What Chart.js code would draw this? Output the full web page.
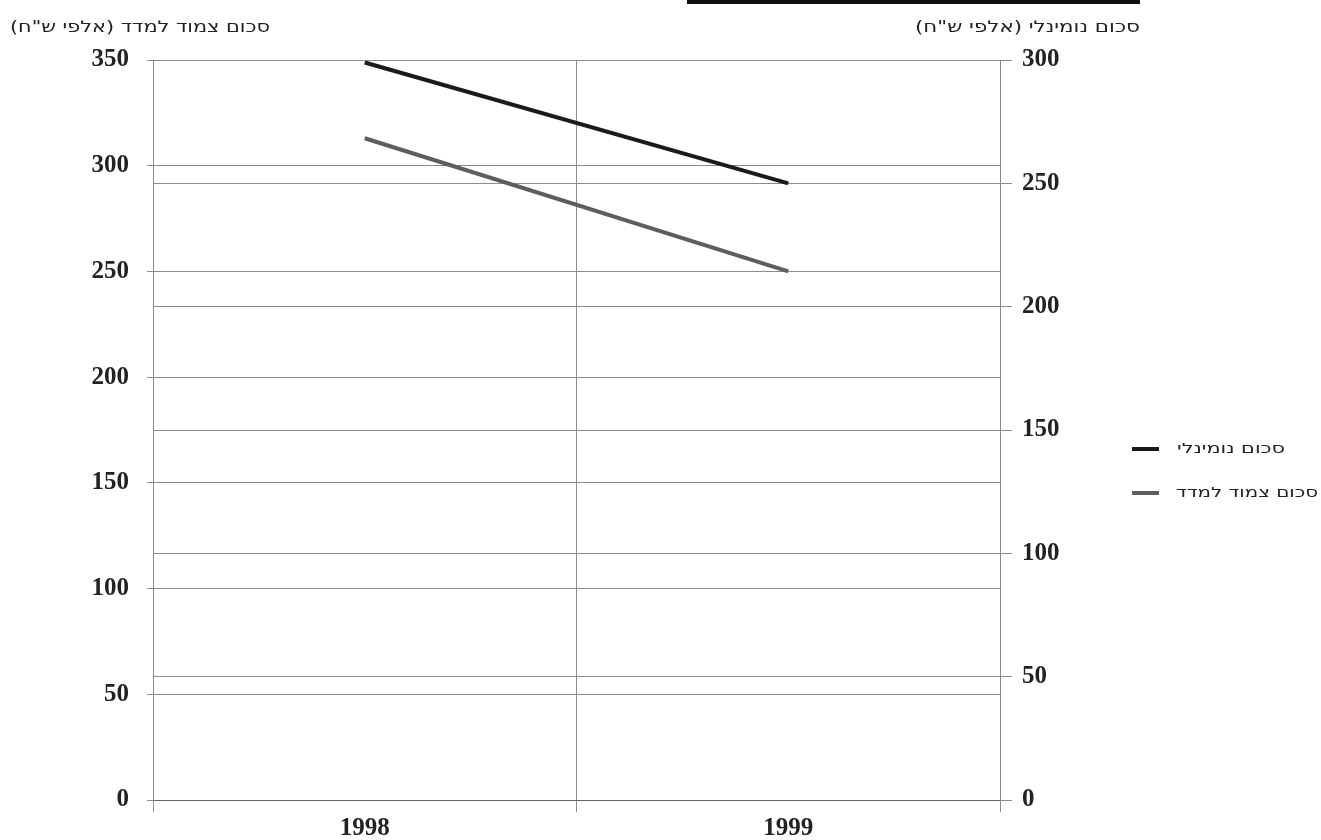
<!DOCTYPE html>
<html>
<head>
<meta charset="utf-8">
<script src="https://cdn.jsdelivr.net/npm/chart.js@4"></script>
<style>
  html, body { margin: 0; padding: 0; background: #ffffff; }
  #wrap { width: 1321px; height: 840px; position: relative; }
</style>
</head>
<body>
<div id="wrap"><canvas id="c"></canvas></div>
<script>
// Years on the category axis
const years = ['1998', '1999'];

// Nominal amount, thousands of NIS (right axis)
const nominalLabel = 'סכום נומינלי';
const nominalValues = [299, 250];

// Index-linked amount, thousands of NIS (left axis)
const indexedLabel = 'סכום צמוד למדד';
const indexedValues = [313, 250];

// Axis titles
const leftAxisTitle = 'סכום צמוד למדד (אלפי ש"ח)';
const rightAxisTitle = 'סכום נומינלי (אלפי ש"ח)';

// Axis ranges
const leftMax = 350;
const rightMax = 300;
const step = 50;

const tickFont = { family: '"Liberation Serif", "Times New Roman", serif', size: 25, weight: 'bold' };
const gridColor = '#8c8c8c';
const hebrewFont = '"DejaVu Sans", "Noto Sans", sans-serif';

// Right-to-left text whose right edge sits at x, stretched to a given width
function drawRtl(ctx, text, xRight, y, size, width) {
  ctx.save();
  ctx.direction = 'rtl';
  ctx.textAlign = 'right';
  ctx.textBaseline = 'middle';
  ctx.font = size + 'px ' + hebrewFont;
  const w = ctx.measureText(text).width;
  const sx = width / w;
  ctx.translate(xRight, y);
  ctx.scale(sx, 1);
  ctx.fillText(text, 0, 0);
  ctx.restore();
}

// Axis titles above each value axis, legend on the right, header bar at top
const decorations = {
  id: 'decorations',
  afterDraw(chart) {
    const ctx = chart.ctx;
    ctx.save();

    // header bar
    ctx.fillStyle = '#111';
    ctx.fillRect(687, 0, 453, 4);

    ctx.fillStyle = '#222';
    drawRtl(ctx, leftAxisTitle, 270, 28, 16, 260);
    drawRtl(ctx, rightAxisTitle, 1140, 28, 16, 225);

    // legend
    const rows = [449, 493];
    const rights = [1285, 1318];
    const widths = [108, 142];
    chart.data.datasets.forEach((ds, i) => {
      const y = rows[i];
      ctx.fillStyle = ds.borderColor;
      ctx.fillRect(1132, y - 2, 27, 4);
      ctx.fillStyle = '#222';
      drawRtl(ctx, ds.label, rights[i], y, 14, widths[i]);
    });
    ctx.restore();
  }
};

new Chart(document.getElementById('c'), {
  type: 'line',
  data: {
    labels: years,
    datasets: [
      {
        label: nominalLabel,
        data: nominalValues,
        yAxisID: 'yR',
        borderColor: '#1a1a1a',
        backgroundColor: '#1a1a1a',
        borderWidth: 4,
        pointRadius: 0,
        tension: 0
      },
      {
        label: indexedLabel,
        data: indexedValues,
        yAxisID: 'yL',
        borderColor: '#5e5e5e',
        backgroundColor: '#5e5e5e',
        borderWidth: 4,
        pointRadius: 0,
        tension: 0
      }
    ]
  },
  options: {
    responsive: true,
    maintainAspectRatio: false,
    animation: false,
    layout: { padding: { left: 0, right: 261, top: 60, bottom: 0 } },
    plugins: {
      legend: { display: false },
      tooltip: { enabled: false }
    },
    scales: {
      x: {
        type: 'category',
        offset: true,
        grid: { offset: true, color: gridColor, lineWidth: 1, tickLength: 12 },
        border: { color: '#666', width: 1 },
        ticks: { font: tickFont, color: '#222', padding: 2 },
        afterFit(s) { s.height = 40; }
      },
      yL: {
        position: 'left',
        min: 0,
        max: leftMax,
        ticks: { stepSize: step, font: tickFont, color: '#222', padding: 18 },
        grid: { color: gridColor, lineWidth: 1, tickLength: 6 },
        border: { color: '#888', width: 1 },
        afterFit(s) { s.width = 153; }
      },
      yR: {
        position: 'right',
        min: 0,
        max: rightMax,
        ticks: { stepSize: step, font: tickFont, color: '#222', padding: 10 },
        grid: { color: gridColor, lineWidth: 1, tickLength: 12 },
        border: { color: '#888', width: 1 },
        afterFit(s) { s.width = 60; }
      }
    }
  },
  plugins: [decorations]
});
</script>
</body>
</html>
